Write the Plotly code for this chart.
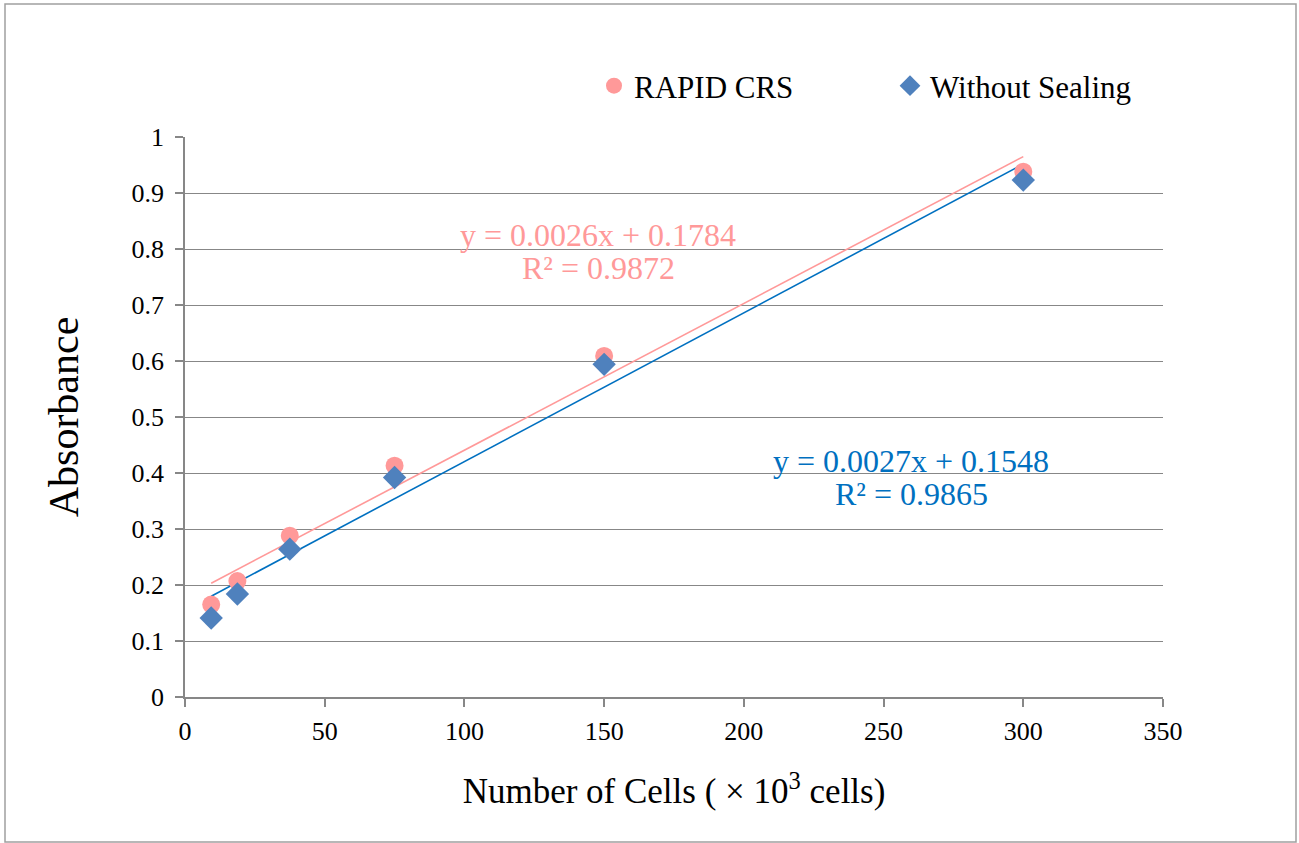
import numpy as np
import plotly.graph_objects as go

cells = [9.375, 18.75, 37.5, 75, 150, 300]
rapid_crs = [0.165, 0.207, 0.288, 0.413, 0.609, 0.938]
without_sealing = [0.141, 0.184, 0.264, 0.392, 0.594, 0.923]
series_names = ["RAPID CRS", "Without Sealing"]
eq_rapid = ["y = 0.0026x + 0.1784", "R² = 0.9872"]
eq_without = ["y = 0.0027x + 0.1548", "R² = 0.9865"]

PINK = "#FF9999"
BLUE_M = "#4F81BD"
BLUE_L = "#0070C0"
GRAY = "#878787"
FONT = "Liberation Serif, serif"

W, H = 1299, 843
L, R, T, B = 185, 136, 137, 146
pw, ph = W - L - R, H - T - B

fig = go.Figure()

xs = np.array(cells)
for ys, color in [(rapid_crs, PINK), (without_sealing, BLUE_L)]:
    k, b = np.polyfit(xs, np.array(ys), 1)
    xl = [xs.min(), xs.max()]
    fig.add_trace(go.Scatter(x=xl, y=[k * v + b for v in xl], mode="lines",
                             line=dict(color=color, width=1.6), showlegend=False,
                             hoverinfo="skip"))

fig.add_trace(go.Scatter(x=cells, y=rapid_crs, mode="markers", name=series_names[0],
                         marker=dict(symbol="circle", size=18, color=PINK)))
fig.add_trace(go.Scatter(x=cells, y=without_sealing, mode="markers", name=series_names[1],
                         marker=dict(symbol="diamond", size=18, color=BLUE_M)))


def px_x(p):
    return (p - L) / pw


def px_y(p):
    return (H - B - p) / ph


fig.add_shape(type="rect", xref="paper", yref="paper",
              x0=px_x(5), x1=px_x(1296), y0=px_y(842), y1=px_y(4),
              line=dict(color="#A0A0A0", width=1.5), layer="below")

for lines, cx, cys, color in [(eq_rapid, 598, (235, 268), PINK),
                              (eq_without, 911, (461, 494), BLUE_L)]:
    for txt, cy in zip(lines, cys):
        fig.add_annotation(x=px_x(cx), y=px_y(cy), xref="paper", yref="paper",
                           xanchor="center", yanchor="middle",
                           text=txt, showarrow=False,
                           font=dict(family=FONT, size=32, color=color))

fig.update_layout(
    width=W, height=H,
    margin=dict(l=L, r=R, t=T, b=B),
    paper_bgcolor="white", plot_bgcolor="white",
    font=dict(family=FONT, color="black"),
    legend=dict(orientation="h", x=px_x(594), y=px_y(86), xanchor="left", yanchor="middle",
                font=dict(family=FONT, size=31, color="black"), entrywidth=251,
                entrywidthmode="pixels", bgcolor="rgba(0,0,0,0)"),
    xaxis=dict(range=[0, 350], dtick=50, tick0=0, showgrid=False, zeroline=False,
               showline=True, linecolor=GRAY, linewidth=1.5,
               ticks="outside", ticklen=8, tickcolor=GRAY, tickwidth=1.5,
               tickfont=dict(family=FONT, size=26, color="black"), ticklabelstandoff=2,
               title=dict(text="Number of Cells ( × 10<sup>3</sup> cells)",
                          font=dict(family=FONT, size=35, color="black"), standoff=34)),
    yaxis=dict(range=[0, 1], dtick=0.1, tick0=0, showgrid=True, gridcolor=GRAY, gridwidth=1.3,
               zeroline=False, showline=True, linecolor=GRAY, linewidth=1.5,
               ticks="outside", ticklen=8, tickcolor=GRAY, tickwidth=1.5,
               tickfont=dict(family=FONT, size=26, color="black"), ticklabelstandoff=6,
               title=dict(text="Absorbance", font=dict(family=FONT, size=42, color="black"),
                          standoff=40)),
)

fig.write_html("out.html", config={"displayModeBar": False},
               post_script="document.body.style.margin='0';document.body.style.overflow='hidden';")
